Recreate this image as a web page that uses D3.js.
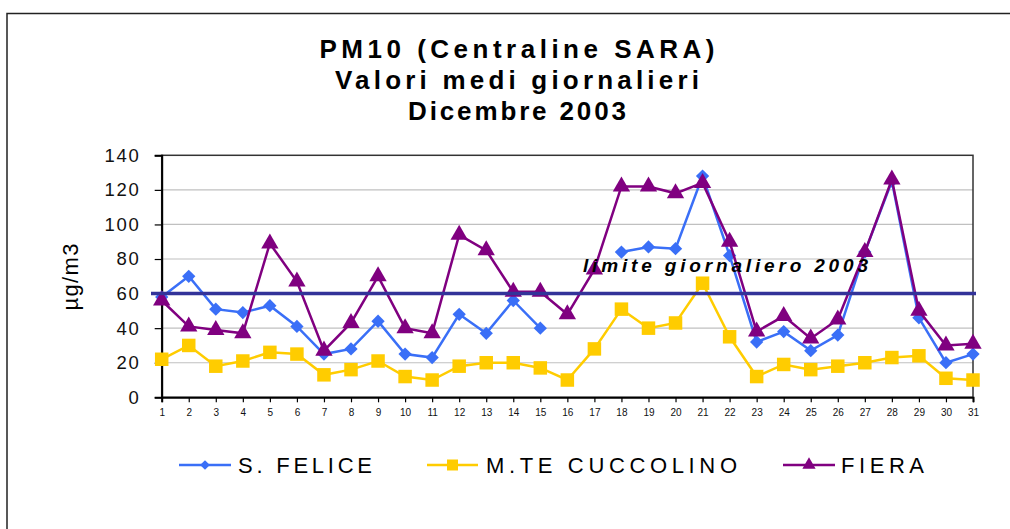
<!DOCTYPE html>
<html>
<head>
<meta charset="utf-8">
<script src="https://cdn.jsdelivr.net/npm/d3@7"></script>
<style>
  body { margin: 0; background: #fff; }
  svg { display: block; font-family: Arial, "Liberation Sans", sans-serif; }
</style>
</head>
<body>
<svg width="1010" height="529"></svg>
<script>
// days of December 2003
var days = d3.range(1, 32);
var yTicks = [0, 20, 40, 60, 80, 100, 120, 140];
var limitValue = 60;

var seriesNames = ["S. FELICE", "M.TE CUCCOLINO", "FIERA"];
var sFelice = [58, 70, 51, 49, 53, 41, 25, 28, 44, 25, 23, 48, 37, 56, 40, null, null,
               84, 87, 86, 128, 82, 32, 38, 27, 36, 84, 125, 46, 20, 25];
var cuccolino = [22, 30, 18, 21, 26, 25, 13, 16, 21, 12, 10, 18, 20, 20, 17, 10, 28,
                 51, 40, 43, 66, 35, 12, 19, 16, 18, 20, 23, 24, 11, 10];
var fiera = [56, 41, 39, 37, 89, 67, 27, 43, 70, 40, 37, 94, 85, 61, 61, 48, 74,
             122, 122, 118, 124, 90, 38, 47, 34, 45, 84, 126, 50, 30, 31];

var svg = d3.select("svg");

// outer chart border (runs off the right and bottom edges)
svg.append("rect")
    .attr("x", 7).attr("y", 13.5)
    .attr("width", 1020).attr("height", 530)
    .attr("fill", "#fff")
    .attr("stroke", "#222").attr("stroke-width", 1.5);

// title
var titleLines = [
    {t: "PM10 (Centraline SARA)", y: 58, w: 395},
    {t: "Valori medi giornalieri", y: 89, w: 364},
    {t: "Dicembre 2003", y: 120, w: 218}
];
svg.selectAll(".title").data(titleLines).enter()
    .append("text")
    .attr("class", "title")
    .attr("x", 517).attr("y", function(d){ return d.y; })
    .attr("text-anchor", "middle")
    .attr("font-size", 26).attr("font-weight", "bold")
    .attr("textLength", function(d){ return d.w; })
    .attr("lengthAdjust", "spacing")
    .text(function(d){ return d.t; });

var plotLeft = 161.7, plotRight = 973, plotTop = 155.3, plotBottom = 397.3;

var x = d3.scalePoint().domain(days).range([plotLeft, plotRight]);
var y = d3.scaleLinear().domain([0, 140]).range([plotBottom, plotTop]);

// gridlines
svg.append("g")
    .selectAll("line")
    .data(yTicks.filter(function(v){ return v > 0 && v < 140; }))
    .enter().append("line")
    .attr("x1", plotLeft).attr("x2", plotRight)
    .attr("y1", function(v){ return y(v); })
    .attr("y2", function(v){ return y(v); })
    .attr("stroke", "#c0c0c0").attr("stroke-width", 1.2);

// plot area border
svg.append("rect")
    .attr("x", plotLeft).attr("y", plotTop)
    .attr("width", plotRight - plotLeft).attr("height", plotBottom - plotTop)
    .attr("fill", "none").attr("stroke", "#333").attr("stroke-width", 1.5);

// y axis
var yAxis = svg.append("g")
    .attr("transform", "translate(" + plotLeft + ",0)")
    .call(d3.axisLeft(y).tickValues(yTicks).tickSize(7).tickPadding(14));
yAxis.select(".domain").attr("stroke", "#000").attr("stroke-width", 2);
yAxis.selectAll(".tick line").attr("stroke", "#000").attr("stroke-width", 1.2);
yAxis.selectAll(".tick text")
    .attr("font-size", 18.5).attr("fill", "#111")
    .attr("letter-spacing", 1.8)
    .attr("font-family", "Arial, 'Liberation Sans', sans-serif");

// x axis
var xAxis = svg.append("g")
    .attr("transform", "translate(0," + plotBottom + ")")
    .call(d3.axisBottom(x).tickSize(5).tickPadding(7));
xAxis.select(".domain").attr("stroke", "#000").attr("stroke-width", 2);
xAxis.selectAll(".tick line").attr("stroke", "#000").attr("stroke-width", 1.2);
xAxis.selectAll(".tick text")
    .attr("font-size", 10).attr("fill", "#111")
    .attr("font-family", "Arial, 'Liberation Sans', sans-serif");

// y axis title
svg.append("text")
    .attr("transform", "translate(78,277) rotate(-90)")
    .attr("text-anchor", "middle")
    .attr("font-size", 22)
    .attr("textLength", 67).attr("lengthAdjust", "spacing")
    .text("µg/m3");

var colors = ["#3a6ff7", "#ffcc00", "#800080"];
var allSeries = [sFelice, cuccolino, fiera];

var line = d3.line()
    .defined(function(d){ return d != null; })
    .x(function(d, i){ return x(days[i]); })
    .y(function(d){ return y(d); });

// diamond / square / triangle markers like the Excel original
function marker(sel, k, size) {
    if (k === 0) {
        sel.attr("d", d3.symbol().type(d3.symbolDiamond2).size(size * size * 0.5)());
    } else if (k === 1) {
        sel.attr("d", d3.symbol().type(d3.symbolSquare).size(size * size)());
    } else {
        sel.attr("d", d3.symbol().type(d3.symbolTriangle).size(size * size * 0.45)());
    }
}

allSeries.forEach(function(vals, k){
    var g = svg.append("g");
    g.append("path")
        .datum(vals)
        .attr("d", line)
        .attr("fill", "none")
        .attr("stroke", colors[k])
        .attr("stroke-width", 2.5);
    var sizes = [15, 13.5, 17];
    g.selectAll("path.pt")
        .data(vals.map(function(v, i){ return {v: v, day: days[i]}; })
            .filter(function(d){ return d.v != null; }))
        .enter().append("path")
        .attr("class", "pt")
        .attr("transform", function(d){ return "translate(" + x(d.day) + "," + y(d.v) + ")"; })
        .attr("fill", colors[k])
        .call(marker, k, sizes[k]);
});

// daily limit line
svg.append("line")
    .attr("x1", 151).attr("x2", 976)
    .attr("y1", y(limitValue)).attr("y2", y(limitValue))
    .attr("stroke", "#333399").attr("stroke-width", 3.5);

svg.append("text")
    .attr("x", 583).attr("y", 272)
    .attr("font-size", 19).attr("font-weight", "bold").attr("font-style", "italic")
    .attr("textLength", 285).attr("lengthAdjust", "spacing")
    .text("limite giornaliero 2003");

// legend
var legendItems = [
    {x1: 179, x2: 231, tx: 238, w: 134},
    {x1: 427, x2: 478, tx: 486, w: 251},
    {x1: 783, x2: 835, tx: 841, w: 83}
];
var legendY = 465;
legendItems.forEach(function(it, k){
    svg.append("line")
        .attr("x1", it.x1).attr("x2", it.x2)
        .attr("y1", legendY).attr("y2", legendY)
        .attr("stroke", colors[k]).attr("stroke-width", 2.5);
    svg.append("path")
        .attr("transform", "translate(" + ((it.x1 + it.x2) / 2) + "," + legendY + ")")
        .attr("fill", colors[k])
        .call(marker, k, [11, 11, 13][k]);
    svg.append("text")
        .attr("x", it.tx).attr("y", legendY + 7.5)
        .attr("font-size", 22)
        .attr("textLength", it.w).attr("lengthAdjust", "spacing")
        .text(seriesNames[k]);
});
</script>
</body>
</html>
